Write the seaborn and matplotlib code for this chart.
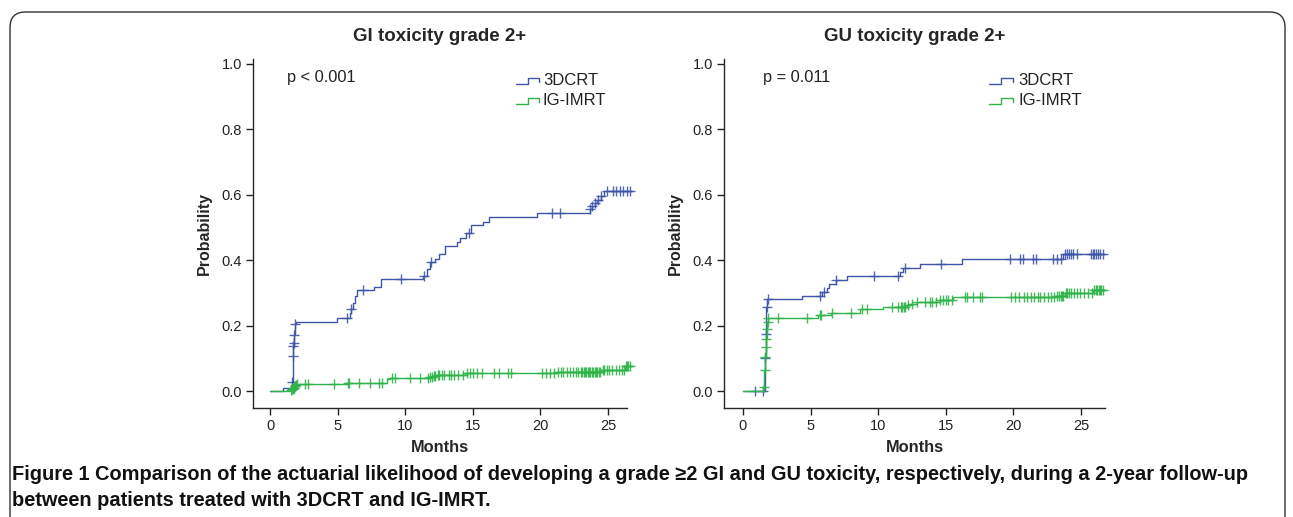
import numpy as np
import pandas as pd
import matplotlib
matplotlib.use("Agg")
import matplotlib.pyplot as plt
import seaborn as sns
from matplotlib.patches import FancyBboxPatch

# ---- data (cumulative probability step curves) ----
gi_3dcrt_t = [0, 0.94, 1.65, 1.69, 1.72, 1.75, 1.79, 1.84, 1.90, 4.94, 5.90, 6.00, 6.15,
              6.30, 6.45, 7.72, 8.22, 11.35, 11.60, 11.80, 12.20, 12.50, 12.94, 13.80,
              14.05, 14.47, 14.87, 15.78, 16.22, 19.77, 23.65, 23.80, 24.00, 24.20,
              24.45, 24.73, 26.8]
gi_3dcrt_p = [0, 0.010, 0.028, 0.108, 0.139, 0.147, 0.171, 0.204, 0.212, 0.223, 0.237,
              0.250, 0.270, 0.290, 0.308, 0.318, 0.341, 0.352, 0.372, 0.393, 0.404, 0.419,
              0.443, 0.455, 0.467, 0.482, 0.506, 0.518, 0.531, 0.545, 0.555, 0.565, 0.575,
              0.585, 0.595, 0.612, 0.612]
gi_3dcrt_cens = [1.66, 1.70, 1.73, 1.76, 1.80, 1.85, 5.72, 6.02, 6.85, 9.66, 11.42, 11.88,
                 14.7, 20.83, 21.45, 23.7, 23.85, 24.05, 24.25, 24.5, 24.9, 25.4, 25.6,
                 25.9, 26.1, 26.4, 26.6]

gi_imrt_t = [0, 1.50, 1.60, 1.70, 1.80, 1.90, 1.97, 5.67, 8.63, 8.88, 11.75, 12.0, 12.3,
             14.42, 21.2, 24.53, 26.26, 26.8]
gi_imrt_p = [0, 0.002, 0.006, 0.010, 0.014, 0.018, 0.020, 0.023, 0.036, 0.039, 0.042,
             0.045, 0.048, 0.054, 0.058, 0.065, 0.075, 0.075]
gi_imrt_cens = [1.55, 1.62, 1.68, 1.74, 1.78, 1.84, 1.88, 1.93, 1.99, 2.59, 2.83, 4.73,
                5.79, 5.85, 6.58, 7.40, 8.07, 8.26, 9.0, 9.25, 10.36, 11.1, 11.7, 11.85,
                11.95, 12.1, 12.2, 12.4, 12.5, 12.7, 12.9, 13.2, 13.4, 13.6, 13.9, 14.3,
                14.6, 14.8, 15.0, 15.3, 15.7, 16.6, 16.9, 17.6, 17.8, 20.1, 20.4, 20.7,
                21.0, 21.3, 21.5, 21.7, 22.0, 22.2, 22.4, 22.6, 22.8, 23.0, 23.1, 23.2,
                23.3, 23.4, 23.5, 23.6, 23.7, 23.8, 23.9, 24.0, 24.1, 24.2, 24.3, 24.4,
                24.6, 24.7, 24.9, 25.1, 25.3, 25.6, 25.8, 26.0, 26.2, 26.3, 26.4, 26.5,
                26.6]

gu_3dcrt_t = [0, 1.63, 1.68, 1.73, 1.80, 4.34, 5.82, 6.19, 6.36, 6.88, 7.72, 11.61,
              11.81, 13.09, 16.22, 23.64, 26.8]
gu_3dcrt_p = [0, 0.100, 0.173, 0.258, 0.280, 0.290, 0.302, 0.314, 0.326, 0.339, 0.352,
              0.365, 0.375, 0.388, 0.403, 0.418, 0.418]
gu_3dcrt_cens = [0.89, 1.5, 1.65, 1.70, 1.76, 1.82, 5.7, 5.99, 6.9, 9.69, 11.44, 12.0,
                 14.65, 19.75, 20.49, 20.73, 21.43, 21.67, 22.9, 23.2, 23.5, 23.85, 24.0,
                 24.15, 24.3, 24.45, 24.7, 25.75, 25.9, 26.0, 26.1, 26.25, 26.4, 26.6]

gu_imrt_t = [0, 1.52, 1.58, 1.63, 1.68, 1.72, 1.76, 1.80, 1.85, 5.57, 6.50, 8.65, 10.38,
             12.10, 12.35, 12.85, 14.57, 15.56, 23.10, 23.80, 25.90, 26.8]
gu_imrt_p = [0, 0.013, 0.064, 0.105, 0.135, 0.159, 0.190, 0.210, 0.222, 0.232, 0.239,
             0.250, 0.258, 0.262, 0.266, 0.271, 0.277, 0.286, 0.289, 0.299, 0.309, 0.309]
gu_imrt_cens = [1.55, 1.60, 1.66, 1.70, 1.74, 1.78, 1.83, 1.88, 2.61, 4.71, 5.70, 5.80,
                6.56, 7.96, 8.78, 9.15, 11.0, 11.5, 11.7, 11.8, 11.9, 12.0, 12.2, 12.5,
                12.9, 13.5, 13.8, 14.0, 14.3, 14.6, 14.8, 15.0, 15.2, 15.5, 16.4, 16.6,
                17.0, 17.5, 17.65, 19.8, 20.1, 20.4, 20.8, 21.0, 21.3, 21.5, 21.8, 22.0,
                22.3, 22.6, 22.8, 23.0, 23.2, 23.4, 23.5, 23.6, 23.7, 23.9, 24.0, 24.1,
                24.3, 24.5, 24.7, 24.9, 25.2, 25.5, 25.8, 26.0, 26.1, 26.2, 26.3, 26.4,
                26.5, 26.6]

groups = ["3DCRT", "IG-IMRT"]
titles = ["GI toxicity grade 2+", "GU toxicity grade 2+"]
p_texts = ["p < 0.001", "p = 0.011"]
x_ticks = [0, 5, 10, 15, 20, 25]
y_ticks = [0.0, 0.2, 0.4, 0.6, 0.8, 1.0]
caption1 = ("Figure 1 Comparison of the actuarial likelihood of developing a grade \u22652 GI "
            "and GU toxicity, respectively, during a 2-year follow-up")
caption2 = "between patients treated with 3DCRT and IG-IMRT."

blue = "#3f56a8"
green = "#2fb34a"

sns.set_style("ticks")
plt.rcParams["font.family"] = ["Liberation Sans", "DejaVu Sans"]
plt.rcParams["axes.linewidth"] = 1.0

fig = plt.figure(figsize=(12.93, 5.17), dpi=100)

panels = [
    dict(pos=[0.1957, 0.2108, 0.2892, 0.6751], xlim=(-1.257, 26.4),
         curves=[(gi_3dcrt_t, gi_3dcrt_p, gi_3dcrt_cens), (gi_imrt_t, gi_imrt_p, gi_imrt_cens)],
         leg_x=(0.703, 0.765), text_x=0.775, p_x=0.091),
    dict(pos=[0.5599, 0.2108, 0.2947, 0.6751], xlim=(-1.405, 26.78),
         curves=[(gu_3dcrt_t, gu_3dcrt_p, gu_3dcrt_cens), (gu_imrt_t, gu_imrt_p, gu_imrt_cens)],
         leg_x=(0.696, 0.759), text_x=0.772, p_x=0.102),
]

for i, pan in enumerate(panels):
    ax = fig.add_axes(pan["pos"])
    for (t, p, cens), col in zip(pan["curves"], [blue, green]):
        df = pd.DataFrame({"Months": t, "Probability": p})
        sns.lineplot(data=df, x="Months", y="Probability", drawstyle="steps-post",
                     estimator=None, sort=False, color=col, lw=1.0, ax=ax, clip_on=False)
        idx = np.searchsorted(t, cens, side="right") - 1
        cy = np.array(p)[idx]
        ax.plot(cens, cy, "+", color=col, ms=7, mew=1.0, clip_on=False, alpha=0.9)

    ax.set_xlim(*pan["xlim"])
    ax.set_ylim(-0.052, 1.015)
    ax.set_xticks(x_ticks)
    ax.set_yticks(y_ticks)
    ax.set_yticklabels([f"{v:.1f}" for v in y_ticks])
    ax.tick_params(direction="out", length=5, width=1, labelsize=10.5, colors="#222222",
                   labelcolor="#222222", pad=3)
    sns.despine(ax=ax)
    ax.set_xlabel("Months", fontsize=11.8, fontweight="bold", labelpad=5)
    ax.set_ylabel("Probability", fontsize=11.5, fontweight="bold", labelpad=7)
    ax.set_title(titles[i], fontsize=13.5, fontweight="bold", pad=13)

    ax.text(pan["p_x"], 0.946, p_texts[i], transform=ax.transAxes, fontsize=11.8,
            va="center", ha="left", color="#222222")
    # step shaped legend keys
    x0, x1 = pan["leg_x"]
    xm = x0 + (x1 - x0) * 0.5
    for row, (name, col) in enumerate(zip(groups, [blue, green])):
        yc = 0.937 - row * 0.057
        lo, hi = yc - 0.009, yc + 0.009
        ax.plot([x0, xm, xm, x1, x1], [lo, lo, hi, hi, yc - 0.002], color=col, lw=1.0,
                transform=ax.transAxes, clip_on=False)
        ax.text(pan["text_x"], yc, name, transform=ax.transAxes, fontsize=12,
                va="center", ha="left", color="#222222")

fig.text(12 / 1293, 1 - 475 / 517, caption1, fontsize=14.4, fontweight="bold",
         va="center", ha="left", color="#111111")
fig.text(12 / 1293, 1 - 500 / 517, caption2, fontsize=14.4, fontweight="bold",
         va="center", ha="left", color="#111111")

frame = FancyBboxPatch((10 / 1293, -0.2), (1285 - 10) / 1293, 1.2 - 12 / 517,
                       boxstyle="round,pad=0,rounding_size=0.012",
                       mutation_aspect=1293 / 517, transform=fig.transFigure,
                       facecolor="none", edgecolor="#333333", lw=1.0)
fig.patches.append(frame)

fig.savefig("out.png", dpi=100)
